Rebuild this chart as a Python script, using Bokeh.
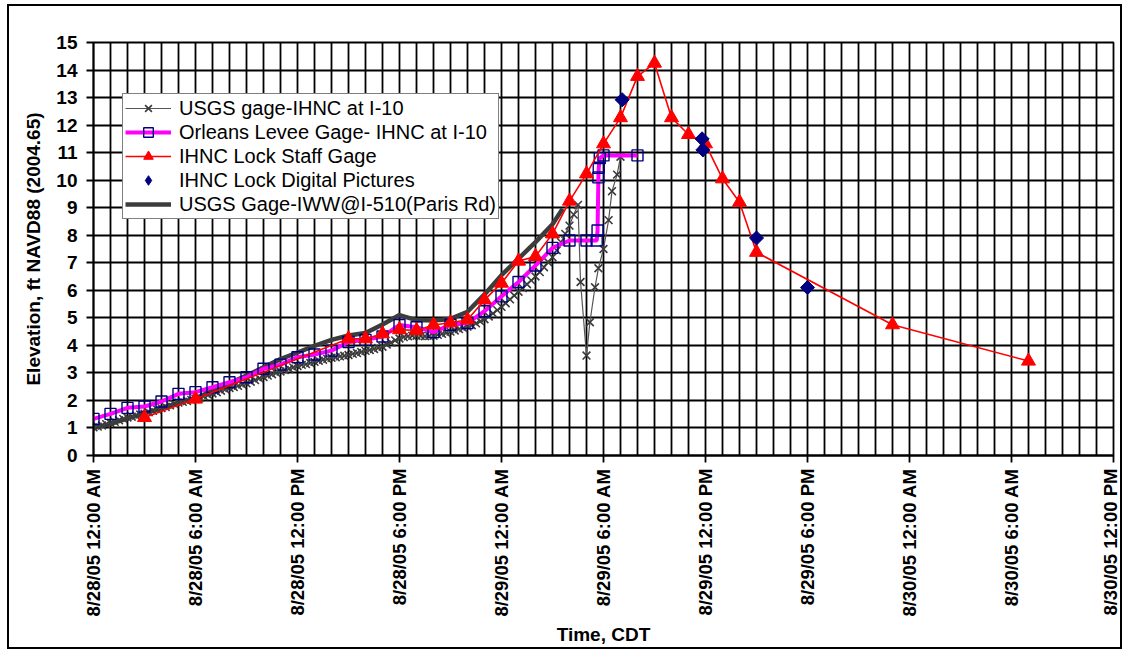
import math
from bokeh.plotting import figure
from bokeh.models import FixedTicker, Legend, LegendItem
from bokeh.embed import file_html
from bokeh.resources import INLINE

# ---------------- data (hours after 8/28/05 12:00 AM CDT, elevation ft) ----------------
tick_hours = [0, 6, 12, 18, 24, 30, 36, 42, 48, 54, 60]
tick_labels = ["8/28/05 12:00 AM", "8/28/05 6:00 AM", "8/28/05 12:00 PM", "8/28/05 6:00 PM",
               "8/29/05 12:00 AM", "8/29/05 6:00 AM", "8/29/05 12:00 PM", "8/29/05 6:00 PM",
               "8/30/05 12:00 AM", "8/30/05 6:00 AM", "8/30/05 12:00 PM"]

# USGS gage-IHNC at I-10 : 15-minute readings from 0:00, then the irregular readings of the spike
usgs_i10_step = 0.25
usgs_i10_regular = [
    1.02, 1.05, 1.09, 1.14, 1.18, 1.22, 1.28, 1.33, 1.38, 1.41, 1.45, 1.49,
    1.52, 1.57, 1.62, 1.67, 1.72, 1.76, 1.82, 1.87, 1.92, 1.95, 1.98, 2.02,
    2.05, 2.10, 2.15, 2.20, 2.25, 2.30, 2.35, 2.40, 2.45, 2.49, 2.53, 2.58,
    2.62, 2.68, 2.74, 2.80, 2.85, 2.90, 2.95, 3.00, 3.05, 3.10, 3.15, 3.20,
    3.25, 3.29, 3.32, 3.36, 3.40, 3.44, 3.48, 3.51, 3.55, 3.57, 3.60, 3.62,
    3.65, 3.69, 3.72, 3.76, 3.80, 3.83, 3.87, 3.91, 3.95, 4.03, 4.10, 4.18,
    4.25, 4.30, 4.33, 4.35, 4.35, 4.34, 4.33, 4.34, 4.35, 4.38, 4.42, 4.46,
    4.50, 4.54, 4.59, 4.63, 4.68, 4.73, 4.80, 4.87, 4.95, 5.05, 5.16, 5.28,
    5.40, 5.53, 5.67, 5.81, 5.95, 6.08, 6.22, 6.36, 6.50, 6.66, 6.84, 7.02,
    7.20, 7.45, 7.75, 8.05, 8.35, 8.75, 9.10]
usgs_i10_spike_hours = [28.65, 29.0, 29.2, 29.5, 29.7, 30.0, 30.3, 30.5, 30.8, 31.0]
usgs_i10_spike_vals = [6.30, 3.63, 4.84, 6.11, 6.80, 7.50, 8.55, 9.60, 10.20, 10.85]

# Orleans Levee Gage - IHNC at I-10
orleans_hours = [0, 1, 2, 3, 4, 5, 6, 7, 8, 9, 10, 11, 12, 13, 14, 15, 16, 17, 18, 19, 20,
                 21, 22, 23, 24, 25, 26, 27, 28, 29, 29.6, 29.65, 29.7, 29.72, 29.78, 30.0, 32.0]
orleans_vals = [1.33, 1.51, 1.73, 1.78, 1.96, 2.24, 2.30, 2.48, 2.66, 2.84, 3.15, 3.30, 3.57,
                3.67, 3.81, 4.12, 4.20, 4.32, 4.74, 4.66, 4.48, 4.75, 4.81, 5.24, 5.78, 6.30,
                6.90, 7.54, 7.81, 7.81, 7.81, 8.17, 10.10, 10.45, 10.80, 10.90, 10.90]

# IHNC Lock Staff Gage
staff_hours = [3, 6, 15, 16, 17, 18, 19, 20, 21, 22, 23, 24, 25, 26, 27, 28, 29, 30, 31,
               32, 33, 34, 35, 36, 37, 38, 39, 47, 55]
staff_vals = [1.38, 2.05, 4.24, 4.24, 4.42, 4.57, 4.54, 4.74, 4.82, 4.93, 5.65, 6.26, 7.06,
              7.23, 8.05, 9.24, 10.23, 11.32, 12.27, 13.77, 14.25, 12.27, 11.66, 11.32, 10.05,
              9.20, 7.38, 4.75, 3.43]

# IHNC Lock Digital Pictures
photo_hours = [31.1, 35.8, 35.85, 39.0, 42.0]
photo_vals = [12.92, 11.50, 11.10, 7.90, 6.10]

# USGS Gage-IWW@I-510 (Paris Rd)
paris_hours = [0, 1, 2, 3, 4, 5, 6, 7, 8, 9, 10, 11, 12, 13, 14, 15, 16, 17, 18, 19, 20,
               21, 22, 23, 24, 25, 26, 27, 27.6]
paris_vals = [1.00, 1.15, 1.35, 1.52, 1.72, 1.90, 2.08, 2.35, 2.62, 2.90, 3.20, 3.50, 3.74,
              3.98, 4.20, 4.36, 4.45, 4.76, 5.10, 4.92, 4.90, 4.96, 5.22, 5.85, 6.55, 7.15,
              7.75, 8.40, 8.96]

usgs_i10_hours = [i * usgs_i10_step for i in range(len(usgs_i10_regular))] + usgs_i10_spike_hours
usgs_i10_vals = usgs_i10_regular + usgs_i10_spike_vals

FONT = "Liberation Sans"

p = figure(width=1115, height=645, x_range=(0, 60), y_range=(0, 15),
           output_backend="svg", toolbar_location=None,
           min_border_left=84, min_border_right=11, min_border_top=36, min_border_bottom=196)
p.styles = {"border": "2px solid black", "margin-left": "7px", "margin-top": "4px"}
p.background_fill_color = "white"
p.border_fill_color = "white"
p.outline_line_color = "black"
p.outline_line_width = 1.8

# grid
p.xgrid.ticker = FixedTicker(ticks=list(range(0, 61)))
p.ygrid.ticker = FixedTicker(ticks=list(range(0, 16)))
for g in (p.xgrid, p.ygrid):
    g.grid_line_color = "black"
    g.grid_line_width = 1.8

# axes
p.xaxis.ticker = FixedTicker(ticks=tick_hours, minor_ticks=[])
p.xaxis.major_label_overrides = {h: lab for h, lab in zip(tick_hours, tick_labels)}
p.xaxis.major_label_orientation = math.pi / 2
p.yaxis.ticker = FixedTicker(ticks=list(range(0, 16)), minor_ticks=[])
for ax in (p.xaxis, p.yaxis):
    ax.axis_line_color = "black"
    ax.axis_line_width = 1.8
    ax.major_tick_line_color = "black"
    ax.major_tick_line_width = 1.8
    ax.major_tick_out = 7
    ax.major_tick_in = 0
    ax.minor_tick_line_color = None
    ax.major_label_text_font = FONT
    ax.major_label_text_font_style = "bold"
    ax.major_label_text_color = "black"
    ax.axis_label_text_font = FONT
    ax.axis_label_text_font_style = "bold"
    ax.axis_label_text_color = "black"
p.xaxis.major_label_text_font_size = "18.5px"
p.yaxis.major_label_text_font_size = "19px"
p.xaxis.major_label_standoff = 6
p.yaxis.major_label_standoff = 9
p.xaxis.axis_label = "Time, CDT"
p.xaxis.axis_label_text_font_size = "19px"
p.xaxis.axis_label_standoff = 4
p.yaxis.axis_label = "Elevation, ft NAVD88 (2004.65)"
p.yaxis.axis_label_text_font_size = "19px"
p.yaxis.axis_label_standoff = 9

# series
r_paris = p.line(paris_hours, paris_vals, line_color="#3c3c3c", line_width=4.5)
r_i10_l = p.line(usgs_i10_hours, usgs_i10_vals, line_color="#555555", line_width=1.2)
r_i10_m = p.scatter(usgs_i10_hours, usgs_i10_vals, marker="x", size=11,
                    line_color="#3a3a3a", line_width=1.6)
r_orl_l = p.line(orleans_hours, orleans_vals, line_color="#ff00ff", line_width=4)
r_orl_m = p.scatter(orleans_hours, orleans_vals, marker="square", size=11,
                    line_color="#000080", line_width=1.4, fill_color=None)
r_stf_l = p.line(staff_hours, staff_vals, line_color="#ff0000", line_width=1.6)
r_stf_m = p.scatter(staff_hours, staff_vals, marker="triangle", size=14,
                    line_color="#ff0000", fill_color="#ff0000")
r_pho = p.scatter(photo_hours, photo_vals, marker="square", size=10, angle=math.pi / 4,
                  line_color="#000080", fill_color="#000080")
# legend swatch for the diamonds (the legend does not rotate markers)
r_pho_key = p.scatter([float("nan")], [float("nan")], marker="diamond", size=14,
                      line_color="#000080", fill_color="#000080")

legend = Legend(items=[
    LegendItem(label="USGS gage-IHNC at I-10", renderers=[r_i10_l, r_i10_m]),
    LegendItem(label="Orleans Levee Gage- IHNC at I-10", renderers=[r_orl_l, r_orl_m]),
    LegendItem(label="IHNC Lock Staff Gage", renderers=[r_stf_l, r_stf_m]),
    LegendItem(label="IHNC Lock Digital Pictures", renderers=[r_pho_key]),
    LegendItem(label="USGS Gage-IWW@I-510(Paris Rd)", renderers=[r_paris]),
], location=(29, 236))
legend.label_text_font = FONT
legend.label_text_font_size = "20px"
legend.label_text_color = "black"
legend.label_height = 24
legend.glyph_height = 24
legend.glyph_width = 46
legend.label_standoff = 8
legend.spacing = 0
legend.padding = 2
legend.margin = 0
legend.border_line_color = "black"
legend.border_line_width = 1.2
legend.background_fill_color = "white"
legend.background_fill_alpha = 1.0
p.add_layout(legend, "center")

open("out.html", "w").write(file_html(p, INLINE))
